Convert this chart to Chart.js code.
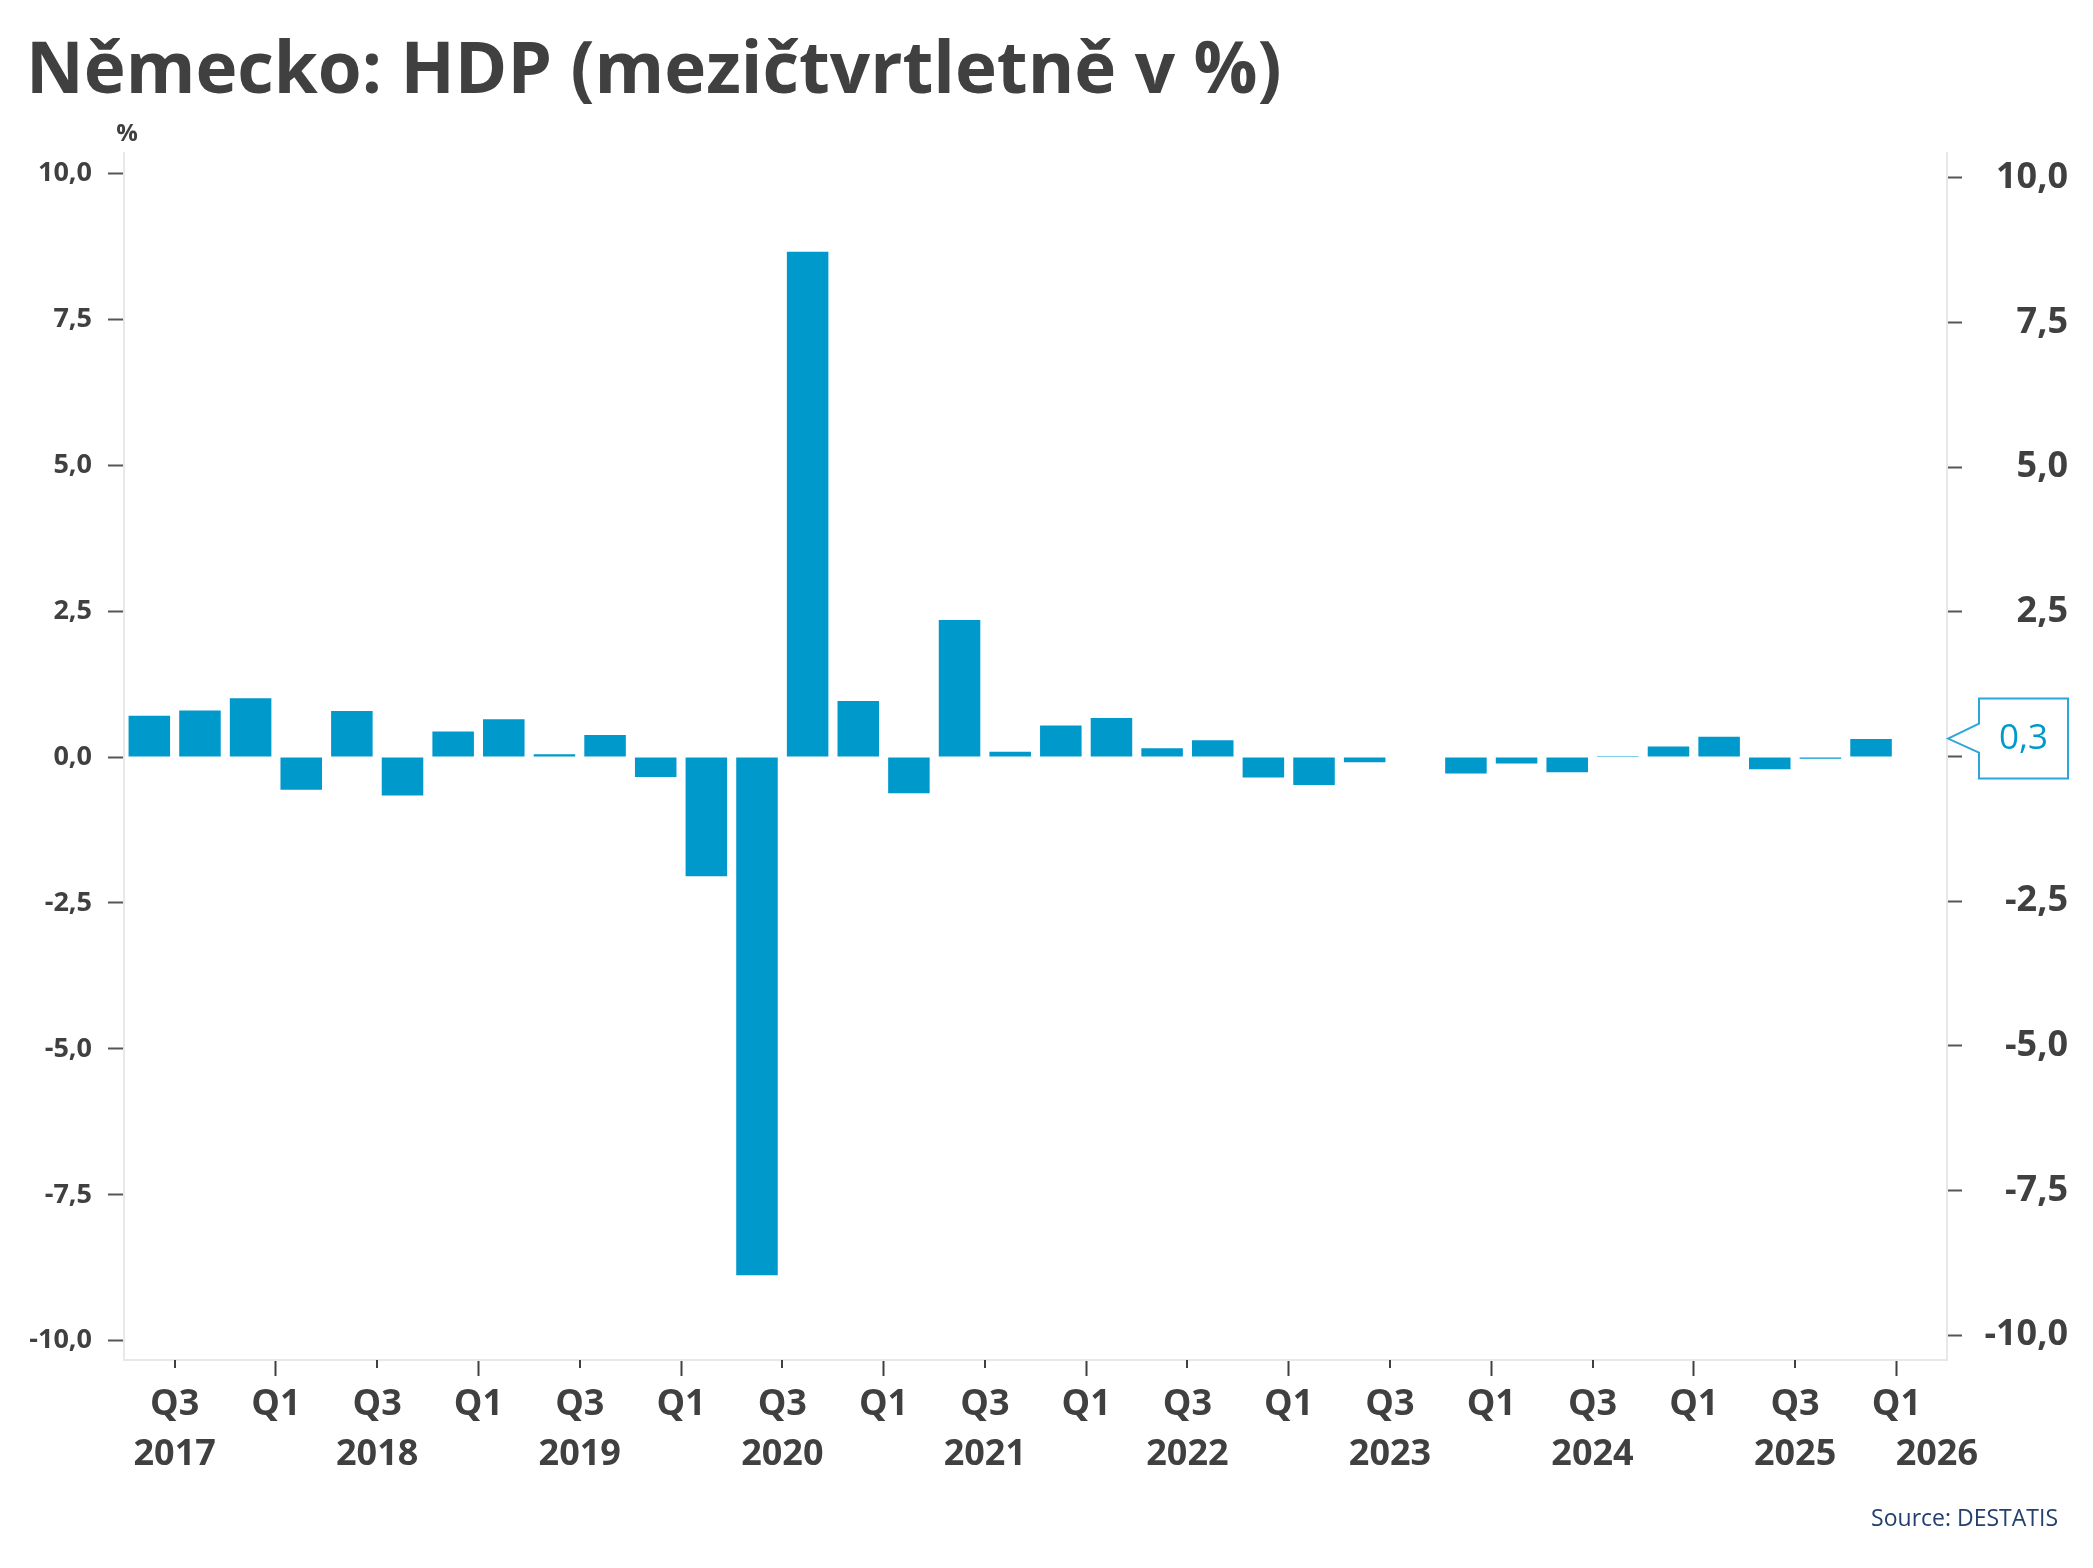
<!DOCTYPE html>
<html>
<head>
<meta charset="utf-8">
<script src="https://cdn.jsdelivr.net/npm/chart.js@4.4.1/dist/chart.umd.min.js"></script>
<style>
  body { margin: 0; background: #fff; }
</style>
</head>
<body>
<canvas id="hdpChart" width="2093" height="1568"></canvas>
<script>
// ctvrtleti, prvni sloupec = 2017 Q2
const quarters = [
  '2017 Q2', '2017 Q3', '2017 Q4',
  '2018 Q1', '2018 Q2', '2018 Q3', '2018 Q4',
  '2019 Q1', '2019 Q2', '2019 Q3', '2019 Q4',
  '2020 Q1', '2020 Q2', '2020 Q3', '2020 Q4',
  '2021 Q1', '2021 Q2', '2021 Q3', '2021 Q4',
  '2022 Q1', '2022 Q2', '2022 Q3', '2022 Q4',
  '2023 Q1', '2023 Q2', '2023 Q3', '2023 Q4',
  '2024 Q1', '2024 Q2', '2024 Q3', '2024 Q4',
  '2025 Q1', '2025 Q2', '2025 Q3', '2025 Q4'
];

// HDP mezictvrtletne v %
const gdpQoQ = [
  0.71, 0.80, 1.01,
  -0.56, 0.79, -0.66, 0.44,
  0.65, 0.05, 0.38, -0.34,
  -2.04, -8.88, 8.66, 0.96,
  -0.62, 2.35, 0.09, 0.54,
  0.67, 0.15, 0.29, -0.35,
  -0.48, -0.09, 0.0, -0.28,
  -0.11, -0.26, 0.02, 0.18,
  0.35, -0.21, -0.03, 0.31
];

const quarterTicks = ['Q3', 'Q1', 'Q3', 'Q1', 'Q3', 'Q1', 'Q3', 'Q1', 'Q3',
                      'Q1', 'Q3', 'Q1', 'Q3', 'Q1', 'Q3', 'Q1', 'Q3', 'Q1'];
const yearTicks = ['2017', '2018', '2019', '2020', '2021', '2022', '2023', '2024', '2025', '2026'];

const leftRange = [-10.33, 10.35];
const rightRange = [-10.43, 10.43];

const axisEnd = quarters.length + 1;   // az do zacatku 2026 Q1 + jeden
const textColor = '#404040';
const fmt = v => v.toFixed(1).replace('.', ',');

// tiky na zacatku Q1 a Q3
const quarterTickPos = [];
quarters.forEach((q, i) => { if (/Q[13]$/.test(q)) quarterTickPos.push(i); });
quarterTickPos.push(quarters.length);

// roky pod Q3, posledni se posune dovnitr
const yearTickPos = yearTicks.map(y => {
  const i = quarters.indexOf(y + ' Q3');
  return i >= 0 ? i : axisEnd - 0.2;
});

const extras = {
  id: 'extras',
  afterDraw(chart) {
    const ctx = chart.ctx;
    const area = chart.chartArea;
    const xs = chart.scales.x;
    ctx.save();

    // kratke tiky pro Q3
    ctx.strokeStyle = textColor;
    ctx.lineWidth = 2;
    xs.ticks.forEach((t, i) => {
      if (quarterTicks[i] !== 'Q3') return;
      const px = Math.round(xs.getPixelForValue(t.value));
      ctx.beginPath();
      ctx.moveTo(px, xs.top);
      ctx.lineTo(px, xs.top + 8);
      ctx.stroke();
    });

    // titulek
    ctx.fillStyle = textColor;
    ctx.font = "bold 71px 'Open Sans'";
    ctx.textAlign = 'left';
    ctx.textBaseline = 'alphabetic';
    ctx.fillText('Německo: HDP (mezičtvrtletně v %)', 26, 93);

    // jednotka
    ctx.font = "bold 24px 'Open Sans'";
    ctx.textAlign = 'center';
    ctx.fillText('%', area.left + 3, 141);

    // zdroj
    ctx.font = "23px 'Open Sans'";
    ctx.fillStyle = '#24406e';
    ctx.textAlign = 'right';
    ctx.fillText('Source: DESTATIS', 2058, 1526);

    // popisek posledni hodnoty
    const last = gdpQoQ[gdpQoQ.length - 1];
    const yTip = chart.scales.y2.getPixelForValue(last);
    const tipX = area.right + 1;
    const bx = area.right + 32, bw = 89, bh = 80;
    ctx.beginPath();
    ctx.moveTo(tipX, yTip);
    ctx.lineTo(bx, yTip - 15);
    ctx.lineTo(bx, yTip - bh / 2);
    ctx.lineTo(bx + bw, yTip - bh / 2);
    ctx.lineTo(bx + bw, yTip + bh / 2);
    ctx.lineTo(bx, yTip + bh / 2);
    ctx.lineTo(bx, yTip + 14);
    ctx.closePath();
    ctx.fillStyle = '#fff';
    ctx.fill();
    ctx.strokeStyle = '#2ba6db';
    ctx.lineWidth = 2;
    ctx.stroke();
    ctx.fillStyle = '#0099cc';
    ctx.font = "35px 'Open Sans'";
    ctx.textAlign = 'center';
    ctx.textBaseline = 'middle';
    ctx.fillText(fmt(last), bx + bw / 2, yTip);

    ctx.restore();
  }
};

Chart.defaults.font.family = "'Open Sans', sans-serif";
Chart.defaults.color = textColor;

const ctx = document.getElementById('hdpChart').getContext('2d');
new Chart(ctx, {
  type: 'bar',
  data: {
    datasets: [{
      label: 'HDP q/q',
      data: gdpQoQ.map((v, i) => ({ x: i + 0.5, y: v })),
      backgroundColor: '#0099cc',
      borderWidth: 0,
      barPercentage: 0.82,
      categoryPercentage: 1.0,
      xAxisID: 'x',
      yAxisID: 'y'
    }]
  },
  options: {
    responsive: false,
    animation: false,
    layout: { padding: { top: 153, right: 25, bottom: 78, left: 0 } },
    plugins: {
      legend: { display: false },
      tooltip: { enabled: false }
    },
    scales: {
      x: {
        type: 'linear',
        position: 'bottom',
        min: 0,
        max: axisEnd,
        offset: false,
        weight: 0,
        afterBuildTicks: s => { s.ticks = quarterTickPos.map(v => ({ value: v })); },
        afterFit: s => { s.height = 70; },
        ticks: {
          autoSkip: false,
          maxRotation: 0,
          padding: 7,
          font: { size: 36, weight: 'bold' },
          color: textColor,
          callback: (v, i) => quarterTicks[i]
        },
        grid: {
          drawOnChartArea: false,
          offset: false,
          tickLength: 16,
          tickWidth: 2,
          tickColor: c => quarterTicks[c.index] === 'Q1' ? textColor : 'rgba(0,0,0,0)'
        },
        border: { color: '#e8e8e8', width: 2 }
      },
      xYear: {
        type: 'linear',
        position: 'bottom',
        min: 0,
        max: axisEnd,
        offset: false,
        weight: 1,
        afterBuildTicks: s => { s.ticks = yearTickPos.map(v => ({ value: v })); },
        afterFit: s => { s.height = 60; },
        ticks: {
          autoSkip: false,
          maxRotation: 0,
          padding: 3,
          font: { size: 36, weight: 'bold' },
          color: textColor,
          callback: (v, i) => yearTicks[i]
        },
        grid: { display: false, drawTicks: false },
        border: { display: false }
      },
      y: {
        position: 'left',
        min: leftRange[0],
        max: leftRange[1],
        afterFit: s => { s.width = 124; },
        ticks: {
          stepSize: 2.5,
          includeBounds: false,
          padding: 16,
          font: { size: 27, weight: 'bold' },
          color: textColor,
          callback: v => fmt(v)
        },
        grid: { drawOnChartArea: false, tickLength: 16, tickWidth: 2, tickColor: '#555' },
        border: { color: '#e8e8e8', width: 2 }
      },
      y2: {
        position: 'right',
        min: rightRange[0],
        max: rightRange[1],
        afterFit: s => { s.width = 121; },
        ticks: {
          stepSize: 2.5,
          includeBounds: false,
          padding: 14,
          crossAlign: 'far',
          font: { size: 36, weight: 'bold' },
          color: textColor,
          callback: v => fmt(v)
        },
        grid: { drawOnChartArea: false, tickLength: 15, tickWidth: 2, tickColor: '#555' },
        border: { color: '#e8e8e8', width: 2 }
      }
    }
  },
  plugins: [extras]
});
</script>
</body>
</html>
